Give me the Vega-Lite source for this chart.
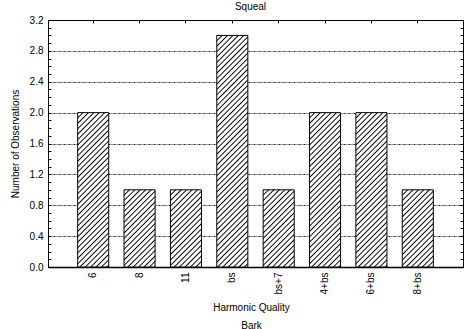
{
"$schema": "https://vega.github.io/schema/vega-lite/v6.json",
"width": 415, "height": 247,
"autosize": {"type": "none"},
"padding": {"left": 48, "top": 20, "right": 1, "bottom": 62},
"title": {"text": "Squeal", "fontSize": 10, "font": "Liberation Sans", "fontWeight": "normal", "anchor": "middle", "baseline": "bottom", "offset": 0, "dx": -5, "dy": 7, "color": "#000"},
"data": {"values": [
{"quality": "6", "count": 2},
{"quality": "8", "count": 1},
{"quality": "11", "count": 1},
{"quality": "bs", "count": 3},
{"quality": "bs+7", "count": 1},
{"quality": "4+bs", "count": 2},
{"quality": "6+bs", "count": 2},
{"quality": "8+bs", "count": 1}
]},
"layer": [
{
"transform": [{"filter": "datum.count == 1"}],
"mark": {"type": "bar", "stroke": "#000", "strokeWidth": 1, "fill": {"gradient": "linear", "x1": 0, "y1": 0, "x2": 1.2117, "y2": 3.0103, "stops": [
{"offset":0,"color":"#000"},{"offset":0.005,"color":"#fff"},{"offset":0.015,"color":"#fff"},
{"offset":0.02,"color":"#000"},{"offset":0.025,"color":"#fff"},{"offset":0.035,"color":"#fff"},
{"offset":0.04,"color":"#000"},{"offset":0.045,"color":"#fff"},{"offset":0.055,"color":"#fff"},
{"offset":0.06,"color":"#000"},{"offset":0.065,"color":"#fff"},{"offset":0.075,"color":"#fff"},
{"offset":0.08,"color":"#000"},{"offset":0.085,"color":"#fff"},{"offset":0.095,"color":"#fff"},
{"offset":0.1,"color":"#000"},{"offset":0.105,"color":"#fff"},{"offset":0.115,"color":"#fff"},
{"offset":0.12,"color":"#000"},{"offset":0.125,"color":"#fff"},{"offset":0.135,"color":"#fff"},
{"offset":0.14,"color":"#000"},{"offset":0.145,"color":"#fff"},{"offset":0.155,"color":"#fff"},
{"offset":0.16,"color":"#000"},{"offset":0.165,"color":"#fff"},{"offset":0.175,"color":"#fff"},
{"offset":0.18,"color":"#000"},{"offset":0.185,"color":"#fff"},{"offset":0.195,"color":"#fff"},
{"offset":0.2,"color":"#000"},{"offset":0.205,"color":"#fff"},{"offset":0.215,"color":"#fff"},
{"offset":0.22,"color":"#000"},{"offset":0.225,"color":"#fff"},{"offset":0.235,"color":"#fff"},
{"offset":0.24,"color":"#000"},{"offset":0.245,"color":"#fff"},{"offset":0.255,"color":"#fff"},
{"offset":0.26,"color":"#000"},{"offset":0.265,"color":"#fff"},{"offset":0.275,"color":"#fff"},
{"offset":0.28,"color":"#000"},{"offset":0.285,"color":"#fff"},{"offset":0.295,"color":"#fff"},
{"offset":0.3,"color":"#000"},{"offset":0.305,"color":"#fff"},{"offset":0.315,"color":"#fff"},
{"offset":0.32,"color":"#000"},{"offset":0.325,"color":"#fff"},{"offset":0.335,"color":"#fff"},
{"offset":0.34,"color":"#000"},{"offset":0.345,"color":"#fff"},{"offset":0.355,"color":"#fff"},
{"offset":0.36,"color":"#000"},{"offset":0.365,"color":"#fff"},{"offset":0.375,"color":"#fff"},
{"offset":0.38,"color":"#000"},{"offset":0.385,"color":"#fff"},{"offset":0.395,"color":"#fff"},
{"offset":0.4,"color":"#000"},{"offset":0.405,"color":"#fff"},{"offset":0.415,"color":"#fff"},
{"offset":0.42,"color":"#000"},{"offset":0.425,"color":"#fff"}
]}},
"encoding": {
"x": {"field": "quality", "type": "nominal", "scale": {"domain": ["6","8","11","bs","bs+7","4+bs","6+bs","8+bs"], "paddingInner": 0.33, "paddingOuter": 0.64},
 "axis": {"orient": "bottom", "labelAngle": -90, "labelFontSize": 10, "labelFont": "Liberation Sans", "labelColor": "#000", "labelPadding": 5, "ticks": false, "domain": true, "domainColor": "#000", "domainWidth": 1.5,
  "title": ["Harmonic Quality", "Bark"], "titleFontSize": 10, "titleFont": "Liberation Sans", "titleFontWeight": "normal", "titleColor": "#000", "titleLineHeight": 18, "titleBaseline": "top", "titleY": 35, "titleX": 203, "titleAngle": 0, "titleAlign": "center"}},
"y": {"field": "count", "type": "quantitative", "scale": {"domain": [0, 3.2], "nice": false},
 "axis": {"orient": "left", "values": [0,0.4,0.8,1.2,1.6,2.0,2.4,2.8,3.2], "format": ".1f", "labelFontSize": 10, "labelFont": "Liberation Sans", "labelColor": "#000", "labelPadding": 5, "ticks": false, "domain": true, "domainColor": "#000",
  "grid": true, "gridColor": "#000", "gridDash": [2,1,1,1], "gridWidth": 1, "gridOpacity": 0.85,
  "title": "Number of Observations", "titleFontSize": 10, "titleFont": "Liberation Sans", "titleFontWeight": "normal", "titleColor": "#000", "titleAngle": 270, "titleBaseline": "alphabetic", "titleAlign": "center", "titleX": -29.5, "titleY": 123.5}}
}
},
{
"transform": [{"filter": "datum.count == 2"}],
"mark": {"type": "bar", "stroke": "#000", "strokeWidth": 1, "fill": {"gradient": "linear", "x1": 0, "y1": 0, "x2": 0.33829, "y2": 1.68089, "stops": [
{"offset":0,"color":"#000"},{"offset":0.005,"color":"#fff"},{"offset":0.015,"color":"#fff"},
{"offset":0.02,"color":"#000"},{"offset":0.025,"color":"#fff"},{"offset":0.035,"color":"#fff"},
{"offset":0.04,"color":"#000"},{"offset":0.045,"color":"#fff"},{"offset":0.055,"color":"#fff"},
{"offset":0.06,"color":"#000"},{"offset":0.065,"color":"#fff"},{"offset":0.075,"color":"#fff"},
{"offset":0.08,"color":"#000"},{"offset":0.085,"color":"#fff"},{"offset":0.095,"color":"#fff"},
{"offset":0.1,"color":"#000"},{"offset":0.105,"color":"#fff"},{"offset":0.115,"color":"#fff"},
{"offset":0.12,"color":"#000"},{"offset":0.125,"color":"#fff"},{"offset":0.135,"color":"#fff"},
{"offset":0.14,"color":"#000"},{"offset":0.145,"color":"#fff"},{"offset":0.155,"color":"#fff"},
{"offset":0.16,"color":"#000"},{"offset":0.165,"color":"#fff"},{"offset":0.175,"color":"#fff"},
{"offset":0.18,"color":"#000"},{"offset":0.185,"color":"#fff"},{"offset":0.195,"color":"#fff"},
{"offset":0.2,"color":"#000"},{"offset":0.205,"color":"#fff"},{"offset":0.215,"color":"#fff"},
{"offset":0.22,"color":"#000"},{"offset":0.225,"color":"#fff"},{"offset":0.235,"color":"#fff"},
{"offset":0.24,"color":"#000"},{"offset":0.245,"color":"#fff"},{"offset":0.255,"color":"#fff"},
{"offset":0.26,"color":"#000"},{"offset":0.265,"color":"#fff"},{"offset":0.275,"color":"#fff"},
{"offset":0.28,"color":"#000"},{"offset":0.285,"color":"#fff"},{"offset":0.295,"color":"#fff"},
{"offset":0.3,"color":"#000"},{"offset":0.305,"color":"#fff"},{"offset":0.315,"color":"#fff"},
{"offset":0.32,"color":"#000"},{"offset":0.325,"color":"#fff"},{"offset":0.335,"color":"#fff"},
{"offset":0.34,"color":"#000"},{"offset":0.345,"color":"#fff"},{"offset":0.355,"color":"#fff"},
{"offset":0.36,"color":"#000"},{"offset":0.365,"color":"#fff"},{"offset":0.375,"color":"#fff"},
{"offset":0.38,"color":"#000"},{"offset":0.385,"color":"#fff"},{"offset":0.395,"color":"#fff"},
{"offset":0.4,"color":"#000"},{"offset":0.405,"color":"#fff"},{"offset":0.415,"color":"#fff"},
{"offset":0.42,"color":"#000"},{"offset":0.425,"color":"#fff"},{"offset":0.435,"color":"#fff"},
{"offset":0.44,"color":"#000"},{"offset":0.445,"color":"#fff"},{"offset":0.455,"color":"#fff"},
{"offset":0.46,"color":"#000"},{"offset":0.465,"color":"#fff"},{"offset":0.475,"color":"#fff"},
{"offset":0.48,"color":"#000"},{"offset":0.485,"color":"#fff"},{"offset":0.495,"color":"#fff"},
{"offset":0.5,"color":"#000"},{"offset":0.505,"color":"#fff"},{"offset":0.515,"color":"#fff"},
{"offset":0.52,"color":"#000"},{"offset":0.525,"color":"#fff"},{"offset":0.535,"color":"#fff"},
{"offset":0.54,"color":"#000"},{"offset":0.545,"color":"#fff"},{"offset":0.555,"color":"#fff"},
{"offset":0.56,"color":"#000"},{"offset":0.565,"color":"#fff"},{"offset":0.575,"color":"#fff"},
{"offset":0.58,"color":"#000"},{"offset":0.585,"color":"#fff"},{"offset":0.595,"color":"#fff"},
{"offset":0.6,"color":"#000"},{"offset":0.605,"color":"#fff"},{"offset":0.615,"color":"#fff"},
{"offset":0.62,"color":"#000"},{"offset":0.625,"color":"#fff"},{"offset":0.635,"color":"#fff"},
{"offset":0.64,"color":"#000"},{"offset":0.645,"color":"#fff"},{"offset":0.655,"color":"#fff"},
{"offset":0.66,"color":"#000"},{"offset":0.665,"color":"#fff"},{"offset":0.675,"color":"#fff"},
{"offset":0.68,"color":"#000"},{"offset":0.685,"color":"#fff"},{"offset":0.695,"color":"#fff"},
{"offset":0.7,"color":"#000"},{"offset":0.705,"color":"#fff"}
]}},
"encoding": {
"x": {"field": "quality", "type": "nominal", "scale": {"domain": ["6","8","11","bs","bs+7","4+bs","6+bs","8+bs"], "paddingInner": 0.33, "paddingOuter": 0.64},
 "axis": {"orient": "top", "labels": false, "ticks": true, "tickSize": -3, "tickColor": "#000", "domain": false, "grid": false, "title": null}},
"y": {"field": "count", "type": "quantitative", "scale": {"domain": [0, 3.2], "nice": false},
 "axis": {"orient": "right", "values": [0,0.1,0.2,0.3,0.4,0.5,0.6,0.7,0.8,0.9,1.0,1.1,1.2,1.3,1.4,1.5,1.6,1.7,1.8,1.9,2.0,2.1,2.2,2.3,2.4,2.5,2.6,2.7,2.8,2.9,3.0,3.1,3.2], "labels": false, "ticks": true, "tickSize": -3, "tickColor": "#000", "domain": false, "grid": false, "title": null}}
}
},
{
"transform": [{"filter": "datum.count == 3"}],
"mark": {"type": "bar", "stroke": "#000", "strokeWidth": 1, "fill": {"gradient": "linear", "x1": 0, "y1": 0, "x2": 0.153685, "y2": 1.14539, "stops": [
{"offset":0,"color":"#000"},{"offset":0.005,"color":"#fff"},{"offset":0.015,"color":"#fff"},
{"offset":0.02,"color":"#000"},{"offset":0.025,"color":"#fff"},{"offset":0.035,"color":"#fff"},
{"offset":0.04,"color":"#000"},{"offset":0.045,"color":"#fff"},{"offset":0.055,"color":"#fff"},
{"offset":0.06,"color":"#000"},{"offset":0.065,"color":"#fff"},{"offset":0.075,"color":"#fff"},
{"offset":0.08,"color":"#000"},{"offset":0.085,"color":"#fff"},{"offset":0.095,"color":"#fff"},
{"offset":0.1,"color":"#000"},{"offset":0.105,"color":"#fff"},{"offset":0.115,"color":"#fff"},
{"offset":0.12,"color":"#000"},{"offset":0.125,"color":"#fff"},{"offset":0.135,"color":"#fff"},
{"offset":0.14,"color":"#000"},{"offset":0.145,"color":"#fff"},{"offset":0.155,"color":"#fff"},
{"offset":0.16,"color":"#000"},{"offset":0.165,"color":"#fff"},{"offset":0.175,"color":"#fff"},
{"offset":0.18,"color":"#000"},{"offset":0.185,"color":"#fff"},{"offset":0.195,"color":"#fff"},
{"offset":0.2,"color":"#000"},{"offset":0.205,"color":"#fff"},{"offset":0.215,"color":"#fff"},
{"offset":0.22,"color":"#000"},{"offset":0.225,"color":"#fff"},{"offset":0.235,"color":"#fff"},
{"offset":0.24,"color":"#000"},{"offset":0.245,"color":"#fff"},{"offset":0.255,"color":"#fff"},
{"offset":0.26,"color":"#000"},{"offset":0.265,"color":"#fff"},{"offset":0.275,"color":"#fff"},
{"offset":0.28,"color":"#000"},{"offset":0.285,"color":"#fff"},{"offset":0.295,"color":"#fff"},
{"offset":0.3,"color":"#000"},{"offset":0.305,"color":"#fff"},{"offset":0.315,"color":"#fff"},
{"offset":0.32,"color":"#000"},{"offset":0.325,"color":"#fff"},{"offset":0.335,"color":"#fff"},
{"offset":0.34,"color":"#000"},{"offset":0.345,"color":"#fff"},{"offset":0.355,"color":"#fff"},
{"offset":0.36,"color":"#000"},{"offset":0.365,"color":"#fff"},{"offset":0.375,"color":"#fff"},
{"offset":0.38,"color":"#000"},{"offset":0.385,"color":"#fff"},{"offset":0.395,"color":"#fff"},
{"offset":0.4,"color":"#000"},{"offset":0.405,"color":"#fff"},{"offset":0.415,"color":"#fff"},
{"offset":0.42,"color":"#000"},{"offset":0.425,"color":"#fff"},{"offset":0.435,"color":"#fff"},
{"offset":0.44,"color":"#000"},{"offset":0.445,"color":"#fff"},{"offset":0.455,"color":"#fff"},
{"offset":0.46,"color":"#000"},{"offset":0.465,"color":"#fff"},{"offset":0.475,"color":"#fff"},
{"offset":0.48,"color":"#000"},{"offset":0.485,"color":"#fff"},{"offset":0.495,"color":"#fff"},
{"offset":0.5,"color":"#000"},{"offset":0.505,"color":"#fff"},{"offset":0.515,"color":"#fff"},
{"offset":0.52,"color":"#000"},{"offset":0.525,"color":"#fff"},{"offset":0.535,"color":"#fff"},
{"offset":0.54,"color":"#000"},{"offset":0.545,"color":"#fff"},{"offset":0.555,"color":"#fff"},
{"offset":0.56,"color":"#000"},{"offset":0.565,"color":"#fff"},{"offset":0.575,"color":"#fff"},
{"offset":0.58,"color":"#000"},{"offset":0.585,"color":"#fff"},{"offset":0.595,"color":"#fff"},
{"offset":0.6,"color":"#000"},{"offset":0.605,"color":"#fff"},{"offset":0.615,"color":"#fff"},
{"offset":0.62,"color":"#000"},{"offset":0.625,"color":"#fff"},{"offset":0.635,"color":"#fff"},
{"offset":0.64,"color":"#000"},{"offset":0.645,"color":"#fff"},{"offset":0.655,"color":"#fff"},
{"offset":0.66,"color":"#000"},{"offset":0.665,"color":"#fff"},{"offset":0.675,"color":"#fff"},
{"offset":0.68,"color":"#000"},{"offset":0.685,"color":"#fff"},{"offset":0.695,"color":"#fff"},
{"offset":0.7,"color":"#000"},{"offset":0.705,"color":"#fff"},{"offset":0.715,"color":"#fff"},
{"offset":0.72,"color":"#000"},{"offset":0.725,"color":"#fff"},{"offset":0.735,"color":"#fff"},
{"offset":0.74,"color":"#000"},{"offset":0.745,"color":"#fff"},{"offset":0.755,"color":"#fff"},
{"offset":0.76,"color":"#000"},{"offset":0.765,"color":"#fff"},{"offset":0.775,"color":"#fff"},
{"offset":0.78,"color":"#000"},{"offset":0.785,"color":"#fff"},{"offset":0.795,"color":"#fff"},
{"offset":0.8,"color":"#000"},{"offset":0.805,"color":"#fff"},{"offset":0.815,"color":"#fff"},
{"offset":0.82,"color":"#000"},{"offset":0.825,"color":"#fff"},{"offset":0.835,"color":"#fff"},
{"offset":0.84,"color":"#000"},{"offset":0.845,"color":"#fff"},{"offset":0.855,"color":"#fff"},
{"offset":0.86,"color":"#000"},{"offset":0.865,"color":"#fff"},{"offset":0.875,"color":"#fff"},
{"offset":0.88,"color":"#000"},{"offset":0.885,"color":"#fff"},{"offset":0.895,"color":"#fff"},
{"offset":0.9,"color":"#000"},{"offset":0.905,"color":"#fff"},{"offset":0.915,"color":"#fff"},
{"offset":0.92,"color":"#000"},{"offset":0.925,"color":"#fff"},{"offset":0.935,"color":"#fff"},
{"offset":0.94,"color":"#000"},{"offset":0.945,"color":"#fff"},{"offset":0.955,"color":"#fff"},
{"offset":0.96,"color":"#000"},{"offset":0.965,"color":"#fff"},{"offset":0.975,"color":"#fff"},
{"offset":0.98,"color":"#000"},{"offset":0.985,"color":"#fff"},{"offset":0.995,"color":"#fff"}
]}},
"encoding": {
"x": {"field": "quality", "type": "nominal", "scale": {"domain": ["6","8","11","bs","bs+7","4+bs","6+bs","8+bs"], "paddingInner": 0.33, "paddingOuter": 0.64}, "axis": null},
"y": {"field": "count", "type": "quantitative", "scale": {"domain": [0, 3.2], "nice": false},
 "axis": {"orient": "left", "values": [0,0.1,0.2,0.3,0.4,0.5,0.6,0.7,0.8,0.9,1.0,1.1,1.2,1.3,1.4,1.5,1.6,1.7,1.8,1.9,2.0,2.1,2.2,2.3,2.4,2.5,2.6,2.7,2.8,2.9,3.0,3.1,3.2], "labels": false, "ticks": true, "tickSize": -3, "tickColor": "#000", "domain": false, "grid": false, "title": null}}
}
}
],
"resolve": {"axis": {"x": "independent", "y": "independent"}},
"config": {"view": {"stroke": "#000", "strokeWidth": 1}, "font": "Liberation Sans", "background": "#fff"}
}
